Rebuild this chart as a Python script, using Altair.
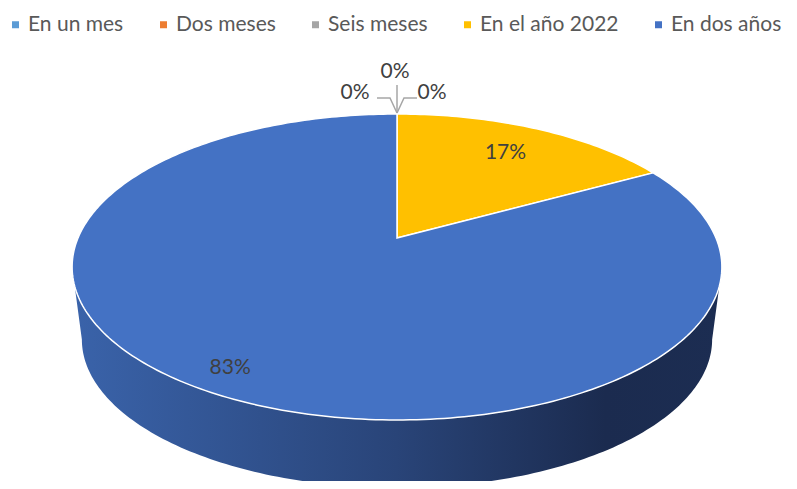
import math
import altair as alt

# ---------------- data ----------------
categories = ["En un mes", "Dos meses", "Seis meses", "En el año 2022", "En dos años"]
values = [0, 0, 0, 17, 83]
label_texts = ["0%", "0%", "0%", "17%", "83%"]
colors = ["#5B9BD5", "#ED7D31", "#A5A5A5", "#FFC000", "#4472C4"]

# ---------------- layout / geometry constants (model units, pie radius = 1) ----------------
K = 0.1895      # perspective strength
T = 0.4624      # tilt (vertical squash)
SB = 0.97       # bottom face shrink (perspective)
DZ = 0.2298     # depth of the pie
PX = 319.0      # projection scale (px per unit)
LABEL_R = {"En el año 2022": 0.75, "En dos años": 0.88}
ZERO_OFFS = [(-42, 21), (-2, 42), (35, 21)]          # label offsets (px) for 0% labels
ZERO_LEAD = [[(-20, 16), (-7, 16), (0, 1)],
             [(0, 29), (0, 1)],
             [(20, 16), (7, 16), (0, 1)]]
FONT = "Lato"


def top(theta_deg, r=1.0):
    th = math.radians(theta_deg)
    u, v = r * math.sin(th), r * math.cos(th)
    w = 1 + K * v
    return [u / w, T * v / w]


def bottom(theta_deg):
    x, y = top(theta_deg)
    return [SB * x, SB * y - DZ]


def arc_pts(a0, a1, f, step=1.0):
    n = max(2, int(math.ceil((a1 - a0) / step)) + 1)
    return [f(a0 + (a1 - a0) * i / (n - 1)) for i in range(n)]


total = float(sum(values))
starts, ends = [], []
acc = 0.0
for v in values:
    starts.append(acc / total * 360.0)
    acc += v
    ends.append(acc / total * 360.0)

# front (visible) side range of the cylinder
front_a = math.degrees(math.acos(-K))
front_b = 360.0 - front_a

top_feats, side_feats, text_rows = [], [], []
for cat, a0, a1, v in zip(categories, starts, ends, values):
    if v > 0:
        ring = [[0.0, 0.0]] + arc_pts(a0, a1, top) + [[0.0, 0.0]]
        top_feats.append({"type": "Feature", "properties": {"cat": cat},
                          "geometry": {"type": "Polygon", "coordinates": [ring]}})
        s0, s1 = max(a0, front_a), min(a1, front_b)
        if s1 > s0:
            ring = arc_pts(s0, s1, top) + arc_pts(s0, s1, bottom)[::-1]
            ring.append(ring[0])
            side_feats.append({"type": "Feature", "properties": {"cat": cat},
                               "geometry": {"type": "Polygon", "coordinates": [ring]}})

lead_feats = []
zi = 0
for cat, a0, a1, v, txt in zip(categories, starts, ends, values, label_texts):
    if v > 0:
        mid = (a0 + a1) / 2
        x, y = top(mid, LABEL_R[cat])
        text_rows.append({"lon": x, "lat": y, "t": txt})
    else:
        bx, by = top(a0)
        ox, oy = ZERO_OFFS[zi]
        text_rows.append({"lon": bx + ox / PX, "lat": by + oy / PX, "t": txt})
        line = [[bx + dx / PX, by + dy / PX] for dx, dy in ZERO_LEAD[zi]]
        lead_feats.append({"type": "Feature", "properties": {"cat": cat},
                           "geometry": {"type": "LineString", "coordinates": line}})
        zi += 1

proj = dict(type="identity", scale=PX, translate=[389, 230], reflectY=True)


def fc(feats):
    return alt.InlineData(values={"type": "FeatureCollection", "features": feats},
                          format=alt.DataFormat(property="features", type="json"))


side = alt.Chart(fc(side_feats)).mark_geoshape(
    fill=alt.Gradient(gradient="linear", x1=0, x2=1, y1=0, y2=0,
                      stops=[alt.GradientStop(color="#3A63AA", offset=0),
                             alt.GradientStop(color="#294478", offset=0.5),
                             alt.GradientStop(color="#1B2B4F", offset=0.82),
                             alt.GradientStop(color="#1C2D52", offset=1)]),
    stroke=None, strokeWidth=0
).project(**proj)

topl = alt.Chart(fc(top_feats)).mark_geoshape(stroke="white", strokeWidth=1.5).encode(
    color=alt.Color("properties.cat:N",
                    scale=alt.Scale(domain=categories, range=colors),
                    legend=alt.Legend(orient="none", legendX=-3, legendY=6, direction="horizontal",
                                      title=None, symbolType="square", symbolSize=49,
                                      symbolStrokeWidth=0, labelFont=FONT, labelFontSize=21,
                                      labelColor="#595959", columnPadding=29, labelOffset=2,
                                      padding=0))
).project(**proj)

leads = alt.Chart(fc(lead_feats)).mark_geoshape(
    filled=False, stroke="#A6A6A6", strokeWidth=1.5, fill=None
).project(**proj)

texts = alt.Chart(alt.Data(values=text_rows)).mark_text(
    font=FONT, fontSize=21, color="#404040", align="center", baseline="middle"
).encode(longitude="lon:Q", latitude="lat:Q", text="t:N").project(**proj)

chart = alt.layer(side, topl, leads, texts).properties(
    width=781, height=473, padding=0, autosize="none"
).configure_view(stroke=None)

chart.save("out.html", embed_options={"renderer": "svg", "actions": False})
